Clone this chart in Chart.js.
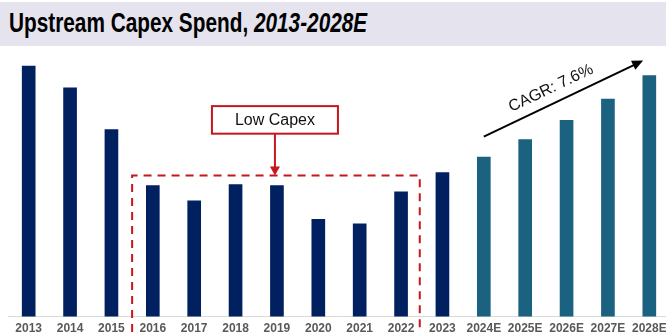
<!DOCTYPE html>
<html>
<head>
<meta charset="utf-8">
<script src="https://cdn.jsdelivr.net/npm/chart.js@4"></script>
<style>
  body { margin: 0; width: 666px; height: 333px; overflow: hidden; background: #fff; position: relative; }
  #title {
    position: absolute; left: 0; top: 2px; width: 666px; height: 44px;
    background: #e5e3ee;
  }
  #title span.txt {
    position: absolute; left: 9px; top: 6px; white-space: nowrap;
    font: bold 27px "Liberation Sans", Arial, sans-serif; color: #000;
    transform: scaleX(0.77); transform-origin: left top;
  }
  #wrap { position: absolute; left: 0; top: 0; width: 680px; height: 341px; }
</style>
</head>
<body>
<div id="title"><span class="txt">Upstream Capex Spend, <i>2013-2028E</i></span></div>
<div id="wrap"><canvas id="capex"></canvas></div>
<script>
const years = ['2013', '2014', '2015', '2016', '2017', '2018', '2019', '2020',
               '2021', '2022', '2023', '2024E', '2025E', '2026E', '2027E', '2028E'];
const capex = [600, 548, 448, 314, 277, 316, 314, 233, 222, 299, 345, 382, 424, 470, 521, 577];
const forecastFrom = 11; // 2024E onwards are estimates
const cagrText = 'CAGR: 7.6%';
const lowLabel = 'Low Capex';

const navy = '#002060';
const teal = '#1b6180';
const red = '#c8161d';

const barColors = capex.map((v, i) => i >= forecastFrom ? teal : navy);

// annotations: dashed box around the low years, callout box and the growth arrow
const annotations = {
  id: 'annotations',
  afterDatasetsDraw(chart) {
    const ctx = chart.ctx;
    const x = chart.scales.x, y = chart.scales.y;

    // dashed frame 2016-2022, open past the bottom of the canvas
    const left = (x.getPixelForValue(2) + x.getPixelForValue(3)) / 2;
    const right = (x.getPixelForValue(9) + x.getPixelForValue(10)) / 2 - 2;
    const top = y.getPixelForValue(338);
    ctx.save();
    ctx.strokeStyle = red;
    ctx.lineWidth = 2;
    ctx.setLineDash([8, 6]);
    ctx.beginPath();
    ctx.moveTo(left, chart.height + 5);
    ctx.lineTo(left, top);
    ctx.lineTo(right, top);
    ctx.lineTo(right, chart.height + 5);
    ctx.stroke();
    ctx.setLineDash([]);

    // callout box
    const cx = (left + right) / 2 - 1;
    const bTop = y.getPixelForValue(504), bBot = y.getPixelForValue(438);
    ctx.fillStyle = '#fff';
    ctx.fillRect(cx - 63, bTop, 126, bBot - bTop);
    ctx.strokeRect(cx - 63, bTop, 126, bBot - bTop);
    ctx.fillStyle = '#111';
    ctx.font = '16px "Liberation Sans", Arial, sans-serif';
    ctx.textAlign = 'center';
    ctx.textBaseline = 'middle';
    ctx.fillText(lowLabel, cx, (bTop + bBot) / 2 + 1);

    // pointer down to the frame
    ctx.beginPath();
    ctx.moveTo(cx, bBot);
    ctx.lineTo(cx, top - 8);
    ctx.stroke();
    ctx.fillStyle = red;
    ctx.beginPath();
    ctx.moveTo(cx - 5, top - 9);
    ctx.lineTo(cx + 5, top - 9);
    ctx.lineTo(cx, top);
    ctx.closePath();
    ctx.fill();

    // growth arrow over the estimates
    const x0 = x.getPixelForValue(11), y0 = y.getPixelForValue(431);
    const x1 = x.getPixelForValue(14.85), y1 = y.getPixelForValue(613);
    const ang = Math.atan2(y1 - y0, x1 - x0);
    ctx.strokeStyle = '#000';
    ctx.fillStyle = '#000';
    ctx.lineWidth = 2;
    ctx.beginPath();
    ctx.moveTo(x0, y0);
    ctx.lineTo(x1 - 8 * Math.cos(ang), y1 - 8 * Math.sin(ang));
    ctx.stroke();
    ctx.translate(x1, y1);
    ctx.rotate(ang);
    ctx.beginPath();
    ctx.moveTo(0, 0);
    ctx.lineTo(-11, -5);
    ctx.lineTo(-11, 5);
    ctx.closePath();
    ctx.fill();
    ctx.setTransform(1, 0, 0, 1, 0, 0);

    ctx.translate((x0 + x1) / 2 - 9, (y0 + y1) / 2 - 3);
    ctx.rotate(ang);
    ctx.font = '16px "Liberation Sans", Arial, sans-serif';
    ctx.fillStyle = '#111';
    ctx.textAlign = 'center';
    ctx.textBaseline = 'bottom';
    ctx.fillText(cagrText, 0, 0);
    ctx.restore();
  }
};

new Chart(document.getElementById('capex'), {
  type: 'bar',
  data: {
    labels: years,
    datasets: [{
      data: capex,
      backgroundColor: barColors,
      barThickness: 13
    }]
  },
  options: {
    responsive: true,
    maintainAspectRatio: false,
    animation: false,
    layout: { padding: { left: 8, right: 10, top: 56, bottom: 0 } },
    plugins: { legend: { display: false }, tooltip: { enabled: false } },
    scales: {
      x: {
        grid: { display: false, drawTicks: false },
        border: { color: '#d9d9d9', width: 1 },
        ticks: {
          color: '#595959',
          font: { family: '"Liberation Sans", Arial, sans-serif', size: 12, weight: 'bold' },
          autoSkip: false,
          maxRotation: 0,
          padding: 5
        }
      },
      y: { display: false, min: 0, max: 624 }
    }
  },
  plugins: [annotations]
});
</script>
</body>
</html>
